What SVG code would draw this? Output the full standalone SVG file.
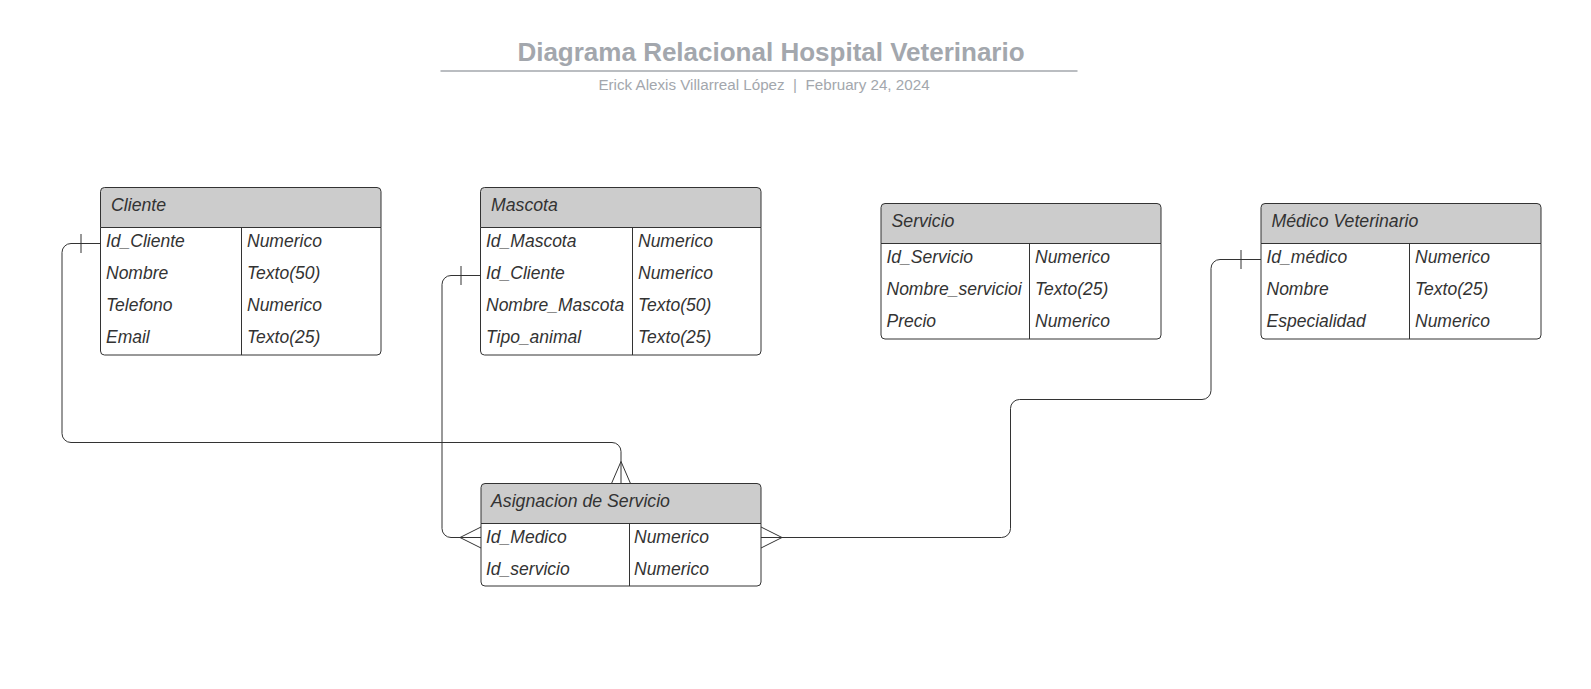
<svg xmlns="http://www.w3.org/2000/svg" width="1591" height="689" viewBox="0 0 1591 689">
<style>
.bg{fill:#ffffff}
.title{font-family:"Liberation Sans",Arial,sans-serif;font-weight:bold;font-size:26px;fill:#a3a7ad}
.sub{font-family:"Liberation Sans",Arial,sans-serif;font-size:15.2px;fill:#a3a7ad}
.box{fill:#ffffff;stroke:#333333;stroke-width:1}
.hdr{fill:#cccccc;stroke:#333333;stroke-width:1}
.ln{stroke:#333333;stroke-width:1;fill:none}
.h{font-family:"Liberation Sans",Arial,sans-serif;font-style:italic;font-size:17.7px;fill:#333333}
.t{font-family:"Liberation Sans",Arial,sans-serif;font-style:italic;font-size:17.5px;fill:#333333}
.conn{stroke:#333333;stroke-width:1;fill:none;stroke-linejoin:round}
</style>
<rect class="bg" x="0" y="0" width="1591" height="689"/>
<g id="title">
<text class="title" x="771" y="61" text-anchor="middle">Diagrama Relacional Hospital Veterinario</text>
<line x1="440.5" y1="71" x2="1077.5" y2="71" stroke="#a3a7ad" stroke-width="1.5"/>
<text class="sub" x="764" y="90" text-anchor="middle" xml:space="preserve">Erick Alexis Villarreal López  |  February 24, 2024</text>
</g>

<g id="cliente">
<path class="hdr" d="M100.5,227.5 V191.5 a4,4 0 0 1 4,-4 H377 a4,4 0 0 1 4,4 V227.5 Z"/>
<path class="box" d="M100.5,227.5 H381 V351 a4,4 0 0 1 -4,4 H104.5 a4,4 0 0 1 -4,-4 Z"/>
<line class="ln" x1="241.5" y1="227.5" x2="241.5" y2="355"/>
<text class="h" x="111" y="210.5">Cliente</text>
<text class="t" x="106" y="247">Id_Cliente</text><text class="t" x="247" y="247">Numerico</text>
<text class="t" x="106" y="279">Nombre</text><text class="t" x="247" y="279">Texto(50)</text>
<text class="t" x="106" y="311">Telefono</text><text class="t" x="247" y="311">Numerico</text>
<text class="t" x="106" y="343">Email</text><text class="t" x="247" y="343">Texto(25)</text>
</g>

<g id="mascota">
<path class="hdr" d="M480.5,227.5 V191.5 a4,4 0 0 1 4,-4 H757 a4,4 0 0 1 4,4 V227.5 Z"/>
<path class="box" d="M480.5,227.5 H761 V351 a4,4 0 0 1 -4,4 H484.5 a4,4 0 0 1 -4,-4 Z"/>
<line class="ln" x1="632.5" y1="227.5" x2="632.5" y2="355"/>
<text class="h" x="491" y="210.5">Mascota</text>
<text class="t" x="486" y="247">Id_Mascota</text><text class="t" x="638" y="247">Numerico</text>
<text class="t" x="486" y="279">Id_Cliente</text><text class="t" x="638" y="279">Numerico</text>
<text class="t" x="486" y="311">Nombre_Mascota</text><text class="t" x="638" y="311">Texto(50)</text>
<text class="t" x="486" y="343">Tipo_animal</text><text class="t" x="638" y="343">Texto(25)</text>
</g>

<g id="servicio">
<path class="hdr" d="M881,243.5 V207.5 a4,4 0 0 1 4,-4 H1157 a4,4 0 0 1 4,4 V243.5 Z"/>
<path class="box" d="M881,243.5 H1161 V335 a4,4 0 0 1 -4,4 H885 a4,4 0 0 1 -4,-4 Z"/>
<line class="ln" x1="1029.5" y1="243.5" x2="1029.5" y2="339"/>
<text class="h" x="891.5" y="226.5">Servicio</text>
<text class="t" x="886.5" y="263">Id_Servicio</text><text class="t" x="1035" y="263">Numerico</text>
<text class="t" x="886.5" y="295">Nombre_servicioi</text><text class="t" x="1035" y="295">Texto(25)</text>
<text class="t" x="886.5" y="327">Precio</text><text class="t" x="1035" y="327">Numerico</text>
</g>

<g id="medico">
<path class="hdr" d="M1261,243.5 V207.5 a4,4 0 0 1 4,-4 H1537 a4,4 0 0 1 4,4 V243.5 Z"/>
<path class="box" d="M1261,243.5 H1541 V335 a4,4 0 0 1 -4,4 H1265 a4,4 0 0 1 -4,-4 Z"/>
<line class="ln" x1="1409.5" y1="243.5" x2="1409.5" y2="339"/>
<text class="h" x="1271.5" y="226.5">Médico Veterinario</text>
<text class="t" x="1266.5" y="263">Id_médico</text><text class="t" x="1415" y="263">Numerico</text>
<text class="t" x="1266.5" y="295">Nombre</text><text class="t" x="1415" y="295">Texto(25)</text>
<text class="t" x="1266.5" y="327">Especialidad</text><text class="t" x="1415" y="327">Numerico</text>
</g>

<g id="asignacion">
<path class="hdr" d="M481,523.5 V487.5 a4,4 0 0 1 4,-4 H757 a4,4 0 0 1 4,4 V523.5 Z"/>
<path class="box" d="M481,523.5 H761 V582 a4,4 0 0 1 -4,4 H485 a4,4 0 0 1 -4,-4 Z"/>
<line class="ln" x1="629.5" y1="523.5" x2="629.5" y2="586"/>
<text class="h" x="491" y="506.5">Asignacion de Servicio</text>
<text class="t" x="486" y="543">Id_Medico</text><text class="t" x="634" y="543">Numerico</text>
<text class="t" x="486" y="575">Id_servicio</text><text class="t" x="634" y="575">Numerico</text>
</g>

<g id="connectors">
<!-- Cliente to Asignacion -->
<path class="conn" d="M100.5,243.5 H71 a9,9 0 0 0 -9,9 V433.5 a9,9 0 0 0 9,9 H612 a9,9 0 0 1 9,9 V483.5"/>
<line class="conn" x1="81" y1="234" x2="81" y2="253"/>
<path class="conn" d="M611.5,483.5 L621,461.5 L630.5,483.5"/>
<!-- Mascota to Asignacion -->
<path class="conn" d="M480.5,275.5 H451 a9,9 0 0 0 -9,9 V528.5 a9,9 0 0 0 9,9 H481"/>
<line class="conn" x1="461" y1="266" x2="461" y2="285"/>
<path class="conn" d="M481,527 L460,537.5 L481,548"/>
<!-- Medico to Asignacion -->
<path class="conn" d="M761,537.5 H1001.5 a9,9 0 0 0 9,-9 V408.5 a9,9 0 0 1 9,-9 H1202 a9,9 0 0 0 9,-9 V268.5 a9,9 0 0 1 9,-9 H1261"/>
<line class="conn" x1="1241" y1="250" x2="1241" y2="269"/>
<path class="conn" d="M761,527 L782,537.5 L761,548"/>
</g>
</svg>
